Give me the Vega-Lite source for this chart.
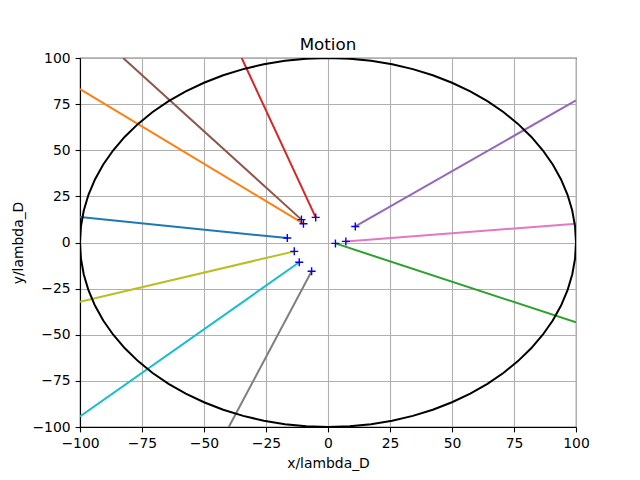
{
  "$schema": "https://vega.github.io/schema/vega-lite/v6.json",
  "width": 496,
  "height": 369,
  "autosize": {"type": "none"},
  "padding": {"left": 80, "top": 58, "right": 64, "bottom": 53},
  "title": {"text": "Motion", "font": "DejaVu Sans", "fontSize": 16.7, "fontWeight": "normal", "color": "black", "offset": 7, "dy": 10},
  "config": {
    "view": {"stroke": "black", "strokeWidth": 1.1},
    "axis": {
      "labelFont": "DejaVu Sans", "labelFontSize": 13.9, "labelColor": "black", "labelFlush": false, "labelOverlap": false,
      "titleFont": "DejaVu Sans", "titleFontSize": 13.9, "titleColor": "black", "titleFontWeight": "normal",
      "tickColor": "black", "tickSize": 4.9, "tickWidth": 1.1,
      "domainColor": "black", "domainWidth": 1.1,
      "gridColor": "#b0b0b0", "gridWidth": 1.1, "gridOpacity": 1,
      "labelPadding": 5, "titlePadding": 6
    }
  },
  "datasets": {
    "circle": [
      {"i":0,"x":100,"y":0},{"i":1,"x":99.62,"y":8.72},{"i":2,"x":98.48,"y":17.36},{"i":3,"x":96.59,"y":25.88},{"i":4,"x":93.97,"y":34.2},{"i":5,"x":90.63,"y":42.26},{"i":6,"x":86.6,"y":50},{"i":7,"x":81.92,"y":57.36},{"i":8,"x":76.6,"y":64.28},{"i":9,"x":70.71,"y":70.71},{"i":10,"x":64.28,"y":76.6},{"i":11,"x":57.36,"y":81.92},{"i":12,"x":50,"y":86.6},{"i":13,"x":42.26,"y":90.63},{"i":14,"x":34.2,"y":93.97},{"i":15,"x":25.88,"y":96.59},{"i":16,"x":17.36,"y":98.48},{"i":17,"x":8.72,"y":99.62},{"i":18,"x":0,"y":100},
      {"i":19,"x":-8.72,"y":99.62},{"i":20,"x":-17.36,"y":98.48},{"i":21,"x":-25.88,"y":96.59},{"i":22,"x":-34.2,"y":93.97},{"i":23,"x":-42.26,"y":90.63},{"i":24,"x":-50,"y":86.6},{"i":25,"x":-57.36,"y":81.92},{"i":26,"x":-64.28,"y":76.6},{"i":27,"x":-70.71,"y":70.71},{"i":28,"x":-76.6,"y":64.28},{"i":29,"x":-81.92,"y":57.36},{"i":30,"x":-86.6,"y":50},{"i":31,"x":-90.63,"y":42.26},{"i":32,"x":-93.97,"y":34.2},{"i":33,"x":-96.59,"y":25.88},{"i":34,"x":-98.48,"y":17.36},{"i":35,"x":-99.62,"y":8.72},{"i":36,"x":-100,"y":0},
      {"i":37,"x":-99.62,"y":-8.72},{"i":38,"x":-98.48,"y":-17.36},{"i":39,"x":-96.59,"y":-25.88},{"i":40,"x":-93.97,"y":-34.2},{"i":41,"x":-90.63,"y":-42.26},{"i":42,"x":-86.6,"y":-50},{"i":43,"x":-81.92,"y":-57.36},{"i":44,"x":-76.6,"y":-64.28},{"i":45,"x":-70.71,"y":-70.71},{"i":46,"x":-64.28,"y":-76.6},{"i":47,"x":-57.36,"y":-81.92},{"i":48,"x":-50,"y":-86.6},{"i":49,"x":-42.26,"y":-90.63},{"i":50,"x":-34.2,"y":-93.97},{"i":51,"x":-25.88,"y":-96.59},{"i":52,"x":-17.36,"y":-98.48},{"i":53,"x":-8.72,"y":-99.62},{"i":54,"x":0,"y":-100},
      {"i":55,"x":8.72,"y":-99.62},{"i":56,"x":17.36,"y":-98.48},{"i":57,"x":25.88,"y":-96.59},{"i":58,"x":34.2,"y":-93.97},{"i":59,"x":42.26,"y":-90.63},{"i":60,"x":50,"y":-86.6},{"i":61,"x":57.36,"y":-81.92},{"i":62,"x":64.28,"y":-76.6},{"i":63,"x":70.71,"y":-70.71},{"i":64,"x":76.6,"y":-64.28},{"i":65,"x":81.92,"y":-57.36},{"i":66,"x":86.6,"y":-50},{"i":67,"x":90.63,"y":-42.26},{"i":68,"x":93.97,"y":-34.2},{"i":69,"x":96.59,"y":-25.88},{"i":70,"x":98.48,"y":-17.36},{"i":71,"x":99.62,"y":-8.72},{"i":72,"x":100,"y":0}
    ],
    "paths": [
      {"s":"s0","o":0,"x":-16.4,"y":2.4},{"s":"s0","o":1,"x":-100,"y":13.8},
      {"s":"s1","o":0,"x":-9.9,"y":10.2},{"s":"s1","o":1,"x":-100,"y":83.2},
      {"s":"s2","o":0,"x":3.0,"y":-0.5},{"s":"s2","o":1,"x":100,"y":-43.3},
      {"s":"s3","o":0,"x":-4.96,"y":13.6},{"s":"s3","o":1,"x":-34.8,"y":100},
      {"s":"s4","o":0,"x":11.0,"y":8.7},{"s":"s4","o":1,"x":100,"y":77.0},
      {"s":"s5","o":0,"x":-10.7,"y":12.4},{"s":"s5","o":1,"x":-82.6,"y":100},
      {"s":"s6","o":0,"x":7.2,"y":0.6},{"s":"s6","o":1,"x":100,"y":10.2},
      {"s":"s7","o":0,"x":-6.6,"y":-15.6},{"s":"s7","o":1,"x":-40.0,"y":-100},
      {"s":"s8","o":0,"x":-13.6,"y":-4.8},{"s":"s8","o":1,"x":-100,"y":-32.1},
      {"s":"s9","o":0,"x":-11.6,"y":-10.7},{"s":"s9","o":1,"x":-100,"y":-94.3}
    ]
  },
  "encoding": {
    "x": {"field": "x", "type": "quantitative", "scale": {"domain": [-100, 100], "nice": false, "zero": false},
          "axis": {"values": [-100, -75, -50, -25, 0, 25, 50, 75, 100], "title": "x/lambda_D"}},
    "y": {"field": "y", "type": "quantitative", "scale": {"domain": [-100, 100], "nice": false, "zero": false},
          "axis": {"values": [-100, -75, -50, -25, 0, 25, 50, 75, 100], "title": "y/lambda_D"}}
  },
  "layer": [
    {
      "data": {"name": "paths"},
      "mark": {"type": "line", "strokeWidth": 2, "clip": true},
      "encoding": {
        "color": {"field": "s", "type": "nominal", "legend": null,
                  "scale": {"domain": ["s0","s1","s2","s3","s4","s5","s6","s7","s8","s9"],
                            "range": ["#1f77b4","#ff7f0e","#2ca02c","#d62728","#9467bd","#8c564b","#e377c2","#7f7f7f","#bcbd22","#17becf"]}},
        "order": {"field": "o", "type": "quantitative"}
      }
    },
    {
      "data": {"name": "circle"},
      "mark": {"type": "line", "color": "black", "strokeWidth": 2, "clip": true},
      "encoding": {"order": {"field": "i", "type": "quantitative"}}
    },
    {
      "data": {"name": "paths"},
      "transform": [{"filter": "datum.o == 0"}],
      "mark": {"type": "point", "shape": "M-1,0H1M0,-1V1", "size": 64, "filled": false, "stroke": "blue", "strokeWidth": 1.4, "opacity": 1}
    }
  ]
}
